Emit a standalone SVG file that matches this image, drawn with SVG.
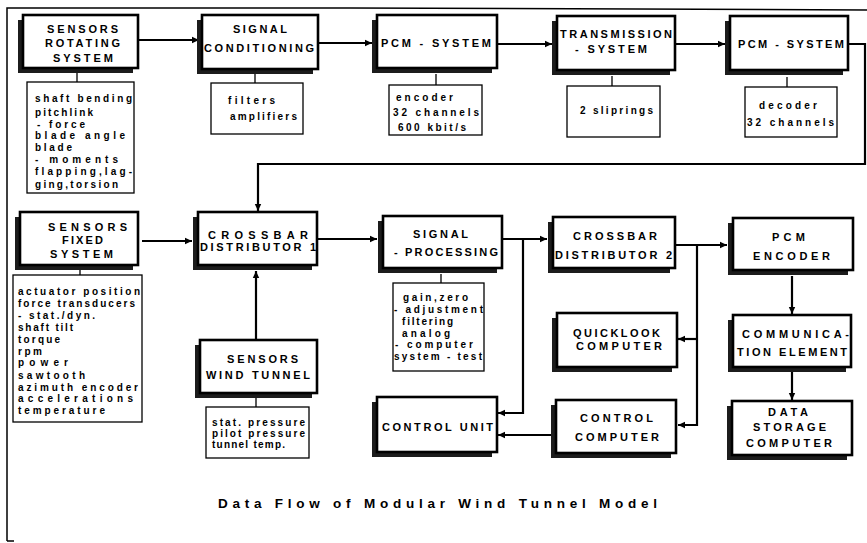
<svg xmlns="http://www.w3.org/2000/svg" width="867" height="543" viewBox="0 0 867 543">
<style>
.box{fill:#fff;stroke:#000;stroke-width:2.6}
.sh{fill:#1c1c1c}
.sub{fill:#fff;stroke:#000;stroke-width:1.3}
.t{font-family:"Liberation Sans",Arial,sans-serif;font-weight:bold;font-size:11px;fill:#000}
.s{font-size:10px}
.ttl{font-size:13.5px}
.w{stroke:#000;stroke-width:2.2;fill:none}
.k{stroke:#000;stroke-width:1.3;fill:none}
.f{stroke:#000;stroke-width:1.5;fill:none}
</style>
<defs>
<marker id="a" markerUnits="userSpaceOnUse" markerWidth="8" markerHeight="8" refX="7" refY="4" orient="auto"><path d="M0,0.8 L7,4 L0,7.2 Z" fill="#000"/></marker>
</defs>
<rect width="867" height="543" fill="#fff"/>
<g id="frame">
<path class="f" d="M7,541 V8 L350,8 L867,10"/>
<path class="f" d="M7,541 H14"/>
</g>
<g id="connectors">
<path class="w" d="M138,40 H199" marker-end="url(#a)"/>
<path class="w" d="M318,43 H372" marker-end="url(#a)"/>
<path class="w" d="M497,44 H552" marker-end="url(#a)"/>
<path class="w" d="M675,44 H725" marker-end="url(#a)"/>
<path class="w" d="M848,44 H865 V164 H258 V211" marker-end="url(#a)"/>
<path class="w" d="M142,241 H192" marker-end="url(#a)"/>
<path class="w" d="M256,340 V271" marker-end="url(#a)"/>
<path class="w" d="M317,239 H377" marker-end="url(#a)"/>
<path class="w" d="M502,239 H547" marker-end="url(#a)"/>
<path class="w" d="M523,239 V413 H498" marker-end="url(#a)"/>
<path class="w" d="M675,245 H727" marker-end="url(#a)"/>
<path class="w" d="M697,245 V425 H678" marker-end="url(#a)"/>
<path class="w" d="M697,339 H678" marker-end="url(#a)"/>
<path class="w" d="M792,276 V314" marker-end="url(#a)"/>
<path class="w" d="M792,372 V400" marker-end="url(#a)"/>
<path class="w" d="M551,435 H498" marker-end="url(#a)"/>
<path class="k" d="M77,72 V82 M255,73 V83 M436,74 V85 M612,76 V86 M787,77 V87 M80,268 V275 M441,274 V283 M256,397 V407"/>
</g>
<g id="n-rotating">
<rect class="sh" x="18" y="20" width="115" height="53"/>
<rect class="box" x="23" y="15" width="115" height="53"/>
<text class="t" x="47" y="33" textLength="71" lengthAdjust="spacing">SENSORS</text>
<text class="t" x="45" y="47" textLength="75" lengthAdjust="spacing">ROTATING</text>
<text class="t" x="53" y="62" textLength="60" lengthAdjust="spacing">SYSTEM</text>
</g>
<g id="s-rotating">
<rect class="sub" x="27" y="82" width="107" height="111"/>
<text class="t s" x="35" y="101.5" textLength="97" lengthAdjust="spacing">shaft bending</text>
<text class="t s" x="35" y="115.5" textLength="58" lengthAdjust="spacing">pitchlink</text>
<text class="t s" x="37" y="127.5" textLength="48" lengthAdjust="spacing">- force</text>
<text class="t s" x="35" y="138.5" textLength="90" lengthAdjust="spacing">blade angle</text>
<text class="t s" x="35" y="150.5" textLength="37" lengthAdjust="spacing">blade</text>
<text class="t s" x="35" y="162.5" textLength="83" lengthAdjust="spacing">- moments</text>
<text class="t s" x="35" y="174.5" textLength="97" lengthAdjust="spacing">flapping,lag-</text>
<text class="t s" x="35" y="187.5" textLength="83" lengthAdjust="spacing">ging,torsion</text>
</g>
<g id="n-sigcond">
<rect class="sh" x="197" y="20" width="116" height="54"/>
<rect class="box" x="202" y="15" width="116" height="54"/>
<text class="t" x="233" y="33" textLength="54" lengthAdjust="spacing">SIGNAL</text>
<text class="t" x="204" y="52" textLength="110" lengthAdjust="spacing">CONDITIONING</text>
</g>
<g id="s-sigcond">
<rect class="sub" x="211" y="83" width="92" height="51"/>
<text class="t s" x="228" y="103.5" textLength="47" lengthAdjust="spacing">filters</text>
<text class="t s" x="230" y="119.5" textLength="67" lengthAdjust="spacing">amplifiers</text>
</g>
<g id="n-pcm1">
<rect class="sh" x="372" y="20" width="120" height="53"/>
<rect class="box" x="377" y="15" width="120" height="53"/>
<text class="t" x="381" y="47" textLength="110" lengthAdjust="spacing">PCM - SYSTEM</text>
</g>
<g id="s-pcm1">
<rect class="sub" x="389" y="85" width="93" height="50"/>
<text class="t s" x="396" y="100.5" textLength="57" lengthAdjust="spacing">encoder</text>
<text class="t s" x="393" y="115.5" textLength="86" lengthAdjust="spacing">32 channels</text>
<text class="t s" x="398" y="130.5" textLength="68" lengthAdjust="spacing">600 kbit/s</text>
</g>
<g id="n-trans">
<rect class="sh" x="552" y="21" width="118" height="54"/>
<rect class="box" x="557" y="16" width="118" height="54"/>
<text class="t" x="560" y="38" textLength="112" lengthAdjust="spacing">TRANSMISSION</text>
<text class="t" x="575" y="53" textLength="72" lengthAdjust="spacing">- SYSTEM</text>
</g>
<g id="s-trans">
<rect class="sub" x="567" y="86" width="93" height="51"/>
<text class="t s" x="580" y="113.5" textLength="73" lengthAdjust="spacing">2 sliprings</text>
</g>
<g id="n-pcm2">
<rect class="sh" x="725" y="21" width="118" height="54"/>
<rect class="box" x="730" y="16" width="118" height="54"/>
<text class="t" x="738" y="48" textLength="106" lengthAdjust="spacing">PCM - SYSTEM</text>
</g>
<g id="s-pcm2">
<rect class="sub" x="745" y="87" width="92" height="50"/>
<text class="t s" x="759" y="108.5" textLength="58" lengthAdjust="spacing">decoder</text>
<text class="t s" x="747" y="125.5" textLength="87" lengthAdjust="spacing">32 channels</text>
</g>
<g id="n-fixed">
<rect class="sh" x="15" y="217" width="118" height="53"/>
<rect class="box" x="20" y="212" width="118" height="53"/>
<text class="t" x="48" y="231" textLength="79" lengthAdjust="spacing">SENSORS</text>
<text class="t" x="62" y="244" textLength="41" lengthAdjust="spacing">FIXED</text>
<text class="t" x="50" y="258" textLength="63" lengthAdjust="spacing">SYSTEM</text>
</g>
<g id="s-fixed">
<rect class="sub" x="13" y="275" width="129" height="147"/>
<text class="t s" x="18" y="294.5" textLength="122" lengthAdjust="spacing">actuator position</text>
<text class="t s" x="18" y="306.5" textLength="117" lengthAdjust="spacing">force transducers</text>
<text class="t s" x="18" y="318.5" textLength="77" lengthAdjust="spacing">- stat./dyn.</text>
<text class="t s" x="18" y="330.5" textLength="55" lengthAdjust="spacing">shaft tilt</text>
<text class="t s" x="18" y="342.5" textLength="42" lengthAdjust="spacing">torque</text>
<text class="t s" x="18" y="354.5" textLength="24" lengthAdjust="spacing">rpm</text>
<text class="t s" x="18" y="365.5" textLength="50" lengthAdjust="spacing">power</text>
<text class="t s" x="18" y="378.5" textLength="67" lengthAdjust="spacing">sawtooth</text>
<text class="t s" x="18" y="390.5" textLength="120" lengthAdjust="spacing">azimuth encoder</text>
<text class="t s" x="18" y="401.5" textLength="115" lengthAdjust="spacing">accelerations</text>
<text class="t s" x="18" y="413.5" textLength="87" lengthAdjust="spacing">temperature</text>
</g>
<g id="n-crossbar1">
<rect class="sh" x="193" y="217" width="119" height="53"/>
<rect class="box" x="198" y="212" width="119" height="53"/>
<text class="t" x="208" y="239" textLength="100" lengthAdjust="spacing">CROSSBAR</text>
<text class="t" x="200" y="251" textLength="116" lengthAdjust="spacing">DISTRIBUTOR 1</text>
</g>
<g id="n-windtunnel">
<rect class="sh" x="195" y="345" width="117" height="53"/>
<rect class="box" x="200" y="340" width="117" height="53"/>
<text class="t" x="227" y="363" textLength="71" lengthAdjust="spacing">SENSORS</text>
<text class="t" x="206" y="379" textLength="104" lengthAdjust="spacing">WIND TUNNEL</text>
</g>
<g id="s-windtunnel">
<rect class="sub" x="206" y="407" width="103" height="51"/>
<text class="t s" x="212" y="426" textLength="93" lengthAdjust="spacing">stat. pressure</text>
<text class="t s" x="212" y="436.5" textLength="93" lengthAdjust="spacing">pilot pressure</text>
<text class="t s" x="212" y="447.5" textLength="73" lengthAdjust="spacing">tunnel temp.</text>
</g>
<g id="n-sigproc">
<rect class="sh" x="378" y="221" width="119" height="52"/>
<rect class="box" x="383" y="216" width="119" height="52"/>
<text class="t" x="413" y="238" textLength="55" lengthAdjust="spacing">SIGNAL</text>
<text class="t" x="394" y="256" textLength="104" lengthAdjust="spacing">- PROCESSING</text>
</g>
<g id="s-sigproc">
<rect class="sub" x="393" y="283" width="91" height="88"/>
<text class="t s" x="403" y="300.5" textLength="65" lengthAdjust="spacing">gain,zero</text>
<text class="t s" x="394" y="312.5" textLength="89" lengthAdjust="spacing">- adjustment</text>
<text class="t s" x="402" y="324.5" textLength="51" lengthAdjust="spacing">filtering</text>
<text class="t s" x="402" y="336.5" textLength="48" lengthAdjust="spacing">analog</text>
<text class="t s" x="395" y="347.5" textLength="78" lengthAdjust="spacing">- computer</text>
<text class="t s" x="394" y="359.5" textLength="88" lengthAdjust="spacing">system - test</text>
</g>
<g id="n-crossbar2">
<rect class="sh" x="548" y="222" width="122" height="51"/>
<rect class="box" x="553" y="217" width="122" height="51"/>
<text class="t" x="573" y="240" textLength="84" lengthAdjust="spacing">CROSSBAR</text>
<text class="t" x="555" y="259" textLength="117" lengthAdjust="spacing">DISTRIBUTOR 2</text>
</g>
<g id="n-pcmencoder">
<rect class="sh" x="728" y="223" width="120" height="52"/>
<rect class="box" x="733" y="218" width="120" height="52"/>
<text class="t" x="772" y="241" textLength="33" lengthAdjust="spacing">PCM</text>
<text class="t" x="753" y="260" textLength="77" lengthAdjust="spacing">ENCODER</text>
</g>
<g id="n-quicklook">
<rect class="sh" x="552" y="318" width="120" height="54"/>
<rect class="box" x="557" y="313" width="120" height="54"/>
<text class="t" x="573" y="337" textLength="87" lengthAdjust="spacing">QUICKLOOK</text>
<text class="t" x="576" y="350" textLength="86" lengthAdjust="spacing">COMPUTER</text>
</g>
<g id="n-comm">
<rect class="sh" x="728" y="320" width="118" height="52"/>
<rect class="box" x="733" y="315" width="118" height="52"/>
<text class="t" x="742" y="338" textLength="107" lengthAdjust="spacing">COMMUNICA-</text>
<text class="t" x="737" y="356" textLength="110" lengthAdjust="spacing">TION ELEMENT</text>
</g>
<g id="n-controlcomputer">
<rect class="sh" x="551" y="405" width="120" height="53"/>
<rect class="box" x="556" y="400" width="120" height="53"/>
<text class="t" x="580" y="422" textLength="73" lengthAdjust="spacing">CONTROL</text>
<text class="t" x="575" y="441" textLength="84" lengthAdjust="spacing">COMPUTER</text>
</g>
<g id="n-datastorage">
<rect class="sh" x="727" y="406" width="120" height="54"/>
<rect class="box" x="732" y="401" width="120" height="54"/>
<text class="t" x="768" y="416" textLength="40" lengthAdjust="spacing">DATA</text>
<text class="t" x="753" y="431" textLength="73" lengthAdjust="spacing">STORAGE</text>
<text class="t" x="746" y="447" textLength="86" lengthAdjust="spacing">COMPUTER</text>
</g>
<g id="n-controlunit">
<rect class="sh" x="372" y="402" width="120" height="55"/>
<rect class="box" x="377" y="397" width="120" height="55"/>
<text class="t" x="382" y="431" textLength="111" lengthAdjust="spacing">CONTROL UNIT</text>
</g>
<g id="title">
<text class="t ttl" x="218" y="508" textLength="439" lengthAdjust="spacing">Data Flow of Modular Wind Tunnel Model</text>
</g>
</svg>
